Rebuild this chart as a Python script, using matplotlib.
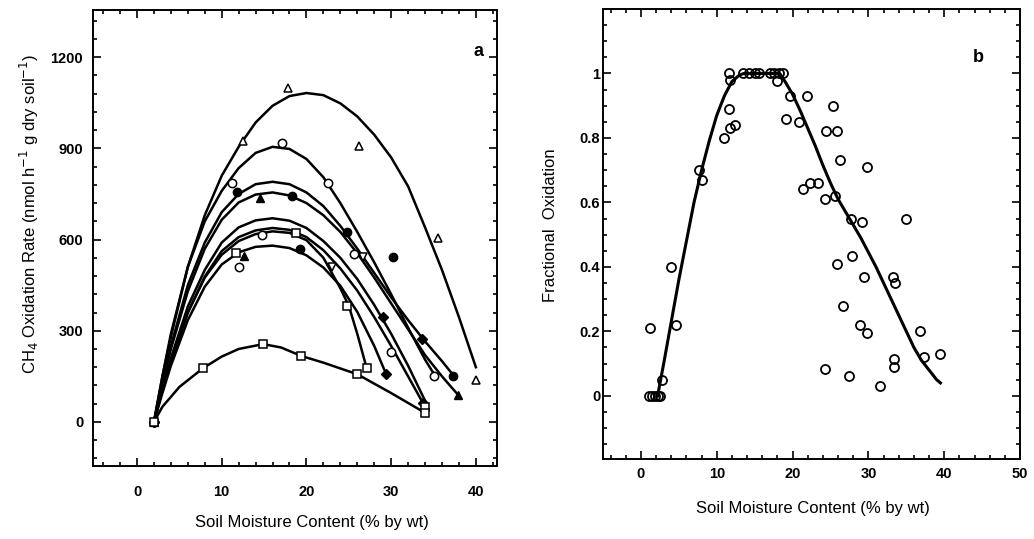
import matplotlib
matplotlib.use("Agg")
import matplotlib.pyplot as plt
from matplotlib.ticker import MultipleLocator

plt.rcParams["font.family"] = ["Liberation Sans", "DejaVu Sans"]

# ---- panel a: fitted curves ----
A_x = [2, 3, 4, 6, 8, 10, 12, 14, 16, 18, 20, 22, 24, 26, 28, 30, 32, 34, 36, 38, 40]
A_y = [0, 150, 280, 510, 680, 810, 905, 985, 1040, 1072, 1082, 1075, 1048, 1005, 945, 870, 775, 640, 500, 345, 180]
B_x = [2, 3, 4, 6, 8, 10, 12, 14, 16, 18, 20, 22, 24, 26, 28, 30, 32, 34, 35]
B_y = [0, 150, 290, 510, 660, 760, 835, 885, 905, 898, 865, 805, 720, 625, 525, 420, 310, 205, 160]
C_x = [2, 3, 4, 6, 8, 10, 12, 14, 16, 18, 20, 22, 24, 26, 28, 30, 32, 34, 36, 37.3]
C_y = [0, 135, 250, 450, 590, 690, 750, 782, 790, 782, 755, 710, 645, 570, 490, 410, 335, 265, 200, 155]
D_x = [2, 3, 4, 6, 8, 10, 12, 14, 16, 18, 20, 22, 24, 26, 28, 30, 32, 34, 36, 37.9]
D_y = [0, 125, 240, 430, 570, 665, 722, 748, 755, 745, 720, 680, 625, 555, 475, 390, 305, 220, 150, 89]
E_x = [2, 3, 4, 6, 8, 10, 12, 14, 16, 18, 20, 22, 24, 26, 28, 30, 32, 34]
E_y = [0, 110, 210, 380, 500, 590, 640, 663, 670, 662, 638, 595, 540, 470, 385, 290, 185, 70]
F_x = [2, 3, 4, 6, 8, 10, 12, 14, 16, 18, 20, 22, 24, 26, 28, 30, 32, 34]
F_y = [0, 105, 200, 360, 478, 562, 608, 630, 638, 632, 608, 565, 505, 432, 345, 250, 150, 50]
G_x = [2, 3, 4, 6, 8, 10, 12, 14, 16, 18, 20, 22, 24, 26, 28, 29.4]
G_y = [0, 95, 185, 335, 445, 518, 558, 576, 580, 572, 548, 508, 448, 362, 250, 158]
H_x = [2, 3, 4, 6, 8, 10, 12, 14, 16, 18, 20, 22, 24, 25, 26, 27.1]
H_y = [0, 105, 200, 360, 475, 550, 595, 618, 627, 622, 598, 540, 440, 382, 290, 178]
I_x = [2, 3, 5, 7.8, 10, 12, 14.9, 17, 19.4, 22, 26, 30, 34]
I_y = [0, 50, 115, 177, 215, 240, 256, 245, 217, 195, 157, 95, 30]

# ---- panel a: measured points ----
tri_open_x = [2, 12.5, 17.8, 26.2, 35.5, 40]
tri_open_y = [0, 925, 1098, 907, 605, 138]
circ_open_x = [2, 11.2, 17.1, 22.5, 25.6, 30, 35, 12, 14.7]
circ_open_y = [0, 786, 917, 786, 552, 230, 151, 510, 615]
circ_fill_x = [2, 11.8, 18.3, 24.8, 30.2, 37.3, 19.2]
circ_fill_y = [0, 756, 743, 625, 542, 151, 568]
tri_fill_x = [2, 14.5, 12.6, 37.9]
tri_fill_y = [0, 736, 546, 89]
tri_down_x = [26.7, 23.0]
tri_down_y = [543, 510]
dia_fill_x = [2, 29.0, 33.7, 29.4, 33.8]
dia_fill_y = [0, 345, 273, 158, 62]
sq_open_x = [2, 11.7, 18.8, 24.8, 27.1, 34, 7.8, 14.9, 19.4, 26, 34]
sq_open_y = [0, 555, 622, 382, 178, 50, 177, 256, 217, 157, 30]

# ---- panel b ----
moist_b = [1.0, 1.4, 1.8, 2.2, 2.5, 2.8, 1.2, 4.6, 3.9, 7.6, 8.0,
           11.0, 11.6, 11.7, 12.4, 11.6, 11.8, 13.5, 14.2, 15.0, 15.6,
           17.0, 17.6, 18.2, 18.8, 17.9, 19.7, 21.9, 25.3, 19.1, 20.9,
           24.4, 25.9, 26.2, 29.8, 21.4, 22.3, 23.4, 24.3, 25.6, 27.7,
           29.2, 35.0, 25.8, 27.9, 29.4, 33.2, 33.5, 26.7, 28.9, 29.8,
           36.8, 37.3, 39.4, 33.4, 33.4, 24.3, 27.5, 31.5]
frac_b = [0, 0, 0, 0, 0, 0.05, 0.21, 0.22, 0.40, 0.70, 0.67,
          0.80, 0.89, 0.83, 0.84, 1.0, 0.98, 1.0, 1.0, 1.0, 1.0,
          1.0, 1.0, 1.0, 1.0, 0.975, 0.93, 0.93, 0.90, 0.86, 0.85,
          0.82, 0.82, 0.73, 0.71, 0.64, 0.66, 0.66, 0.61, 0.62, 0.55,
          0.54, 0.55, 0.41, 0.435, 0.37, 0.37, 0.35, 0.28, 0.22, 0.195,
          0.20, 0.12, 0.13, 0.115, 0.09, 0.083, 0.06, 0.03]
fit_b_x = [2.2, 3, 4, 5, 6, 7, 8, 9, 10, 11, 12, 13, 13.6, 18.3, 19, 20, 21, 22,
           23, 24, 25, 26, 27, 28, 29, 30, 31, 32, 33, 34, 35, 36, 37, 38, 39, 39.5]
fit_b_y = [0, 0.1, 0.23, 0.36, 0.48, 0.6, 0.7, 0.79, 0.87, 0.93, 0.975, 0.995, 1.0, 1.0,
           0.975, 0.935, 0.885, 0.83, 0.775, 0.715, 0.66, 0.61, 0.57, 0.53, 0.49, 0.445,
           0.40, 0.35, 0.30, 0.25, 0.20, 0.15, 0.11, 0.08, 0.05, 0.04]


def style_axis(ax, xpad, ypad):
    ax.tick_params(which="both", direction="in", top=True, right=True, width=1.2)
    ax.tick_params(which="major", length=6)
    ax.tick_params(which="minor", length=3)
    ax.tick_params(axis="x", pad=xpad, labelsize=10.5)
    ax.tick_params(axis="y", pad=ypad, labelsize=10.5)
    for lab in ax.get_xticklabels() + ax.get_yticklabels():
        lab.set_fontweight("bold")
    for sp in ax.spines.values():
        sp.set_linewidth(1.4)


fig = plt.figure(figsize=(10.34, 5.39), dpi=100)
ax1 = fig.add_axes([0.0899, 0.1354, 0.3908, 0.846])
ax2 = fig.add_axes([0.5832, 0.1484, 0.4033, 0.835])

# panel a
lw = 1.8
for cx, cy in [(A_x, A_y), (B_x, B_y), (C_x, C_y), (D_x, D_y), (E_x, E_y),
               (F_x, F_y), (G_x, G_y), (H_x, H_y), (I_x, I_y)]:
    ax1.plot(cx, cy, color="black", lw=lw, solid_joinstyle="round")

ms = 6
open_kw = dict(ls="none", mfc="white", mec="black", mew=1.1, ms=ms, zorder=3)
fill_kw = dict(ls="none", mfc="black", mec="black", ms=ms, zorder=3)
ax1.plot(tri_open_x, tri_open_y, marker="^", **open_kw)
ax1.plot(circ_open_x, circ_open_y, marker="o", **open_kw)
ax1.plot(circ_fill_x, circ_fill_y, marker="o", **fill_kw)
ax1.plot(tri_fill_x, tri_fill_y, marker="^", **fill_kw)
ax1.plot(tri_down_x, tri_down_y, marker="v", **open_kw)
ax1.plot(dia_fill_x, dia_fill_y, marker="D", ms=5, ls="none", mfc="black", mec="black", zorder=3)
ax1.plot(sq_open_x, sq_open_y, marker="s", **open_kw)

ax1.set_xlim(-5.2, 42.5)
ax1.set_ylim(-145, 1355)
ax1.xaxis.set_major_locator(MultipleLocator(10))
ax1.xaxis.set_minor_locator(MultipleLocator(2))
ax1.yaxis.set_major_locator(MultipleLocator(300))
ax1.yaxis.set_minor_locator(MultipleLocator(60))
ax1.set_xticks([0, 10, 20, 30, 40])
ax1.set_yticks([0, 300, 600, 900, 1200])
style_axis(ax1, 14, 7)
ax1.set_xlabel("Soil Moisture Content (% by wt)", fontsize=12)
ax1.xaxis.set_label_coords(0.542, -0.123)
ax1.xaxis.label.set_va("center")
ax1.set_ylabel("CH$_4$ Oxidation Rate (nmol h$^{-1}$ g dry soil$^{-1}$)", fontsize=12)
ax1.yaxis.set_label_coords(-0.156, 0.553)
ax1.yaxis.label.set_va("center")
ax1.text(0.953, 0.908, "a", transform=ax1.transAxes, fontsize=13,
         fontweight="bold", ha="center", va="center")

# panel b
ax2.plot(fit_b_x, fit_b_y, color="black", lw=2.2, zorder=2)
ax2.plot(moist_b, frac_b, ls="none", marker="o", mfc="none", mec="black",
         mew=1.3, ms=6.5, zorder=3)
ax2.set_xlim(-5, 50)
ax2.set_ylim(-0.196, 1.2)
ax2.set_xticks([0, 10, 20, 30, 40, 50])
ax2.xaxis.set_minor_locator(MultipleLocator(2))
ax2.set_yticks([0, 0.2, 0.4, 0.6, 0.8, 1.0])
ax2.set_yticklabels(["0", "0.2", "0.4", "0.6", "0.8", "1"])
ax2.yaxis.set_minor_locator(MultipleLocator(0.05))
style_axis(ax2, 6, 2)
ax2.set_xlabel("Soil Moisture Content (% by wt)", fontsize=12)
ax2.xaxis.set_label_coords(0.504, -0.109)
ax2.xaxis.label.set_va("center")
ax2.set_ylabel("Fractional  Oxidation", fontsize=12)
ax2.yaxis.set_label_coords(-0.127, 0.52)
ax2.yaxis.label.set_va("center")
ax2.text(0.899, 0.893, "b", transform=ax2.transAxes, fontsize=13,
         fontweight="bold", ha="center", va="center")

fig.savefig("out.png", dpi=100)
plt.close(fig)
